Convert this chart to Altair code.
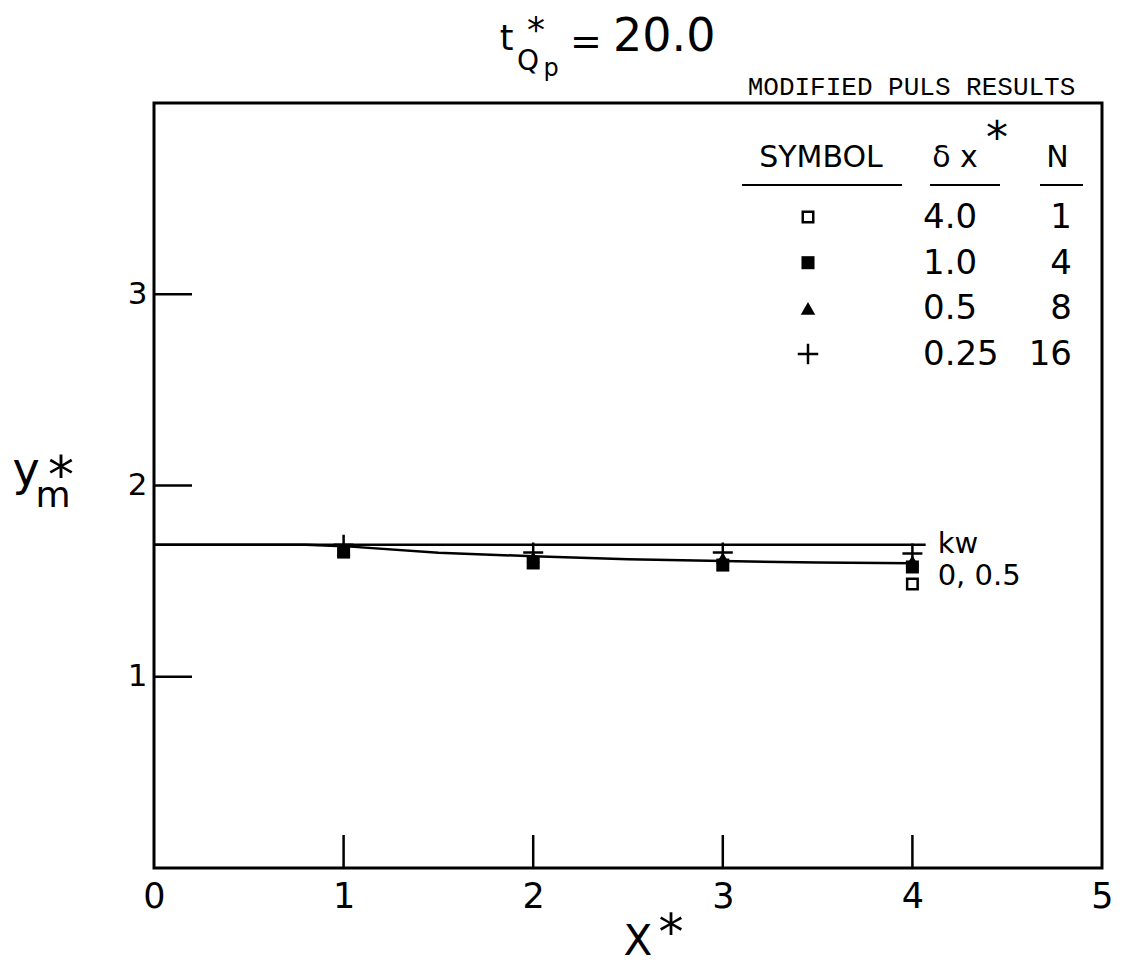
import altair as alt
import pandas as pd

# ---------------- data ----------------
X_STATIONS = [1, 2, 3, 4]
Y_N16 = [1.69, 1.65, 1.65, 1.645]      # plus,           dx* = 0.25, N = 16
Y_N8 = [1.665, 1.625, 1.62, 1.605]     # filled triangle, dx* = 0.5,  N = 8
Y_N4 = [1.652, 1.595, 1.584, 1.574]    # filled square,  dx* = 1.0,  N = 4
X_N1 = [4]
Y_N1 = [1.485]                         # open square,    dx* = 4.0,  N = 1

KW_X = [0, 4.07]                       # kinematic-wave line
KW_Y = [1.69, 1.69]
CURVE_X = [0, 0.8, 1.0, 1.5, 2.0, 2.5, 3.0, 3.5, 4.0]   # "0, 0.5" curve
CURVE_Y = [1.69, 1.69, 1.683, 1.648, 1.63, 1.615, 1.605, 1.597, 1.593]

X_TICKS = [0, 1, 2, 3, 4, 5]
Y_TICKS = [1, 2, 3]
INNER_X_TICKS = [1, 2, 3, 4]

LEG_SHAPES = ["open-square", "square", "triangle", "plus"]
LEG_DX = ["4.0", "1.0", "0.5", "0.25"]
LEG_N = ["1", "4", "8", "16"]

# ---------------- layout / style ----------------
W, H = 948, 765
SANS = "DejaVu Sans"
MONO = "Liberation Mono"
PLUS_PATH = "M-1,0L1,0M0,-1L0,1"
LW = 2.5

xs = alt.Scale(domain=[0, 5], nice=False, zero=False)
ys = alt.Scale(domain=[0, 4], nice=False, zero=False)
x_axis = alt.Axis(values=X_TICKS, format="d", title=None, ticks=False, tickSize=0,
                  domain=False, grid=False, labelFont=SANS, labelFontSize=35,
                  labelColor="black", labelPadding=11, labelFlush=False,
                  labelOverlap=False, labelBound=False)
y_axis = alt.Axis(values=Y_TICKS, format="d", title=None, ticks=False, tickSize=0,
                  domain=False, grid=False, labelFont=SANS, labelFontSize=31,
                  labelColor="black", labelPadding=7, labelFlush=False,
                  labelOverlap=False, labelBound=False)


def X(f):
    return alt.X(f, type="quantitative", scale=xs, axis=x_axis)


def Y(f):
    return alt.Y(f, type="quantitative", scale=ys, axis=y_axis)


ONE = pd.DataFrame({"a": [0]})


def txt(s, px, py, size, align="center", font=SANS):
    return alt.Chart(ONE).mark_text(
        text=s, font=font, fontSize=size, align=align, baseline="alphabetic",
        color="black").encode(x=alt.value(px), y=alt.value(py))


layers = []

# lines
kw_df = pd.DataFrame({"x": KW_X, "y": KW_Y})
curve_df = pd.DataFrame({"x": CURVE_X, "y": CURVE_Y})
layers.append(alt.Chart(kw_df).mark_line(color="black", strokeWidth=LW).encode(x=X("x"), y=Y("y")))
layers.append(alt.Chart(curve_df).mark_line(color="black", strokeWidth=LW).encode(x=X("x"), y=Y("y")))

# inward tick marks
layers.append(alt.Chart(pd.DataFrame({"x": INNER_X_TICKS})).mark_rule(
    color="black", strokeWidth=LW).encode(x=X("x"), y=alt.value(H), y2=alt.value(H - 33)))
layers.append(alt.Chart(pd.DataFrame({"y": Y_TICKS})).mark_rule(
    color="black", strokeWidth=LW).encode(y=Y("y"), x=alt.value(0), x2=alt.value(38)))


# data points
def pts(xv, yv, shape, filled, size, sw=0):
    df = pd.DataFrame({"x": xv, "y": yv})
    return alt.Chart(df).mark_point(shape=shape, filled=filled, size=size, color="black",
                                    opacity=1, strokeWidth=sw).encode(x=X("x"), y=Y("y"))


layers.append(pts(X_N1, Y_N1, "square", False, 110, 2.5))
layers.append(pts(X_STATIONS, Y_N4, "square", True, 170))
layers.append(pts(X_STATIONS, Y_N8, "triangle-up", True, 180))
layers.append(pts(X_STATIONS, Y_N16, PLUS_PATH, False, 400, 2.5))

# curve labels
lab_df = pd.DataFrame({"x": [KW_X[-1], KW_X[-1]], "y": [1.647, 1.48], "t": ["kw", "0, 0.5"]})
layers.append(alt.Chart(lab_df).mark_text(font=SANS, fontSize=29, align="left",
                                          baseline="alphabetic", dx=12, color="black").encode(
    x=X("x"), y=Y("y"), text="t:N"))

# title  t*_Qp = 20.0
layers += [
    txt("t", 352.5, -53, 35),
    txt("*", 382, -61, 36),
    txt("Q", 374, -33, 28),
    txt("p", 397, -27, 24),
    txt("=", 432, -49, 38),
    txt("20.0", 459, -52, 46, align="left"),
    txt("MODIFIED PULS RESULTS", 757.5, -8, 26, font=MONO),
]

# axis titles
layers += [
    txt("y", -128, 382, 46),
    txt("m", -101, 404, 36),
    txt("*", -93, 390, 52),
    txt("X", 484, 852, 42),
    txt("*", 517, 846, 50),
]

# legend table
layers += [
    txt("*", 843, 50, 44),
    txt("SYMBOL", 667, 64, 30),
    txt("\u03b4 x", 801, 64, 30),
    txt("N", 903.5, 64, 30),
]
for a, b in [(588, 748), (776, 846), (886, 929)]:
    layers.append(alt.Chart(ONE).mark_rule(color="black", strokeWidth=2).encode(
        x=alt.value(a), x2=alt.value(b), y=alt.value(82)))

shape_style = {
    "open-square": dict(shape="square", filled=False, size=110, strokeWidth=2.5),
    "square": dict(shape="square", filled=True, size=170, strokeWidth=0),
    "triangle": dict(shape="triangle-up", filled=True, size=210, strokeWidth=0),
    "plus": dict(shape=PLUS_PATH, filled=False, size=420, strokeWidth=2.5),
}
for i, (shp, dxs, nn) in enumerate(zip(LEG_SHAPES, LEG_DX, LEG_N)):
    base = 125 + i * 45.7
    layers.append(alt.Chart(ONE).mark_point(color="black", opacity=1, **shape_style[shp]).encode(
        x=alt.value(654), y=alt.value(base - 11)))
    layers.append(txt(dxs, 769, base, 34, align="left"))
    layers.append(txt(nn, 918, base, 34, align="right"))

chart = alt.layer(*layers).properties(
    width=W, height=H,
    padding={"left": 146, "top": 95, "right": 14, "bottom": 97},
    autosize=alt.AutoSizeParams(type="none"),
    background="white",
).configure_view(stroke="black", strokeWidth=3)

chart.save("out.html", embed_options={"renderer": "svg", "actions": False})
